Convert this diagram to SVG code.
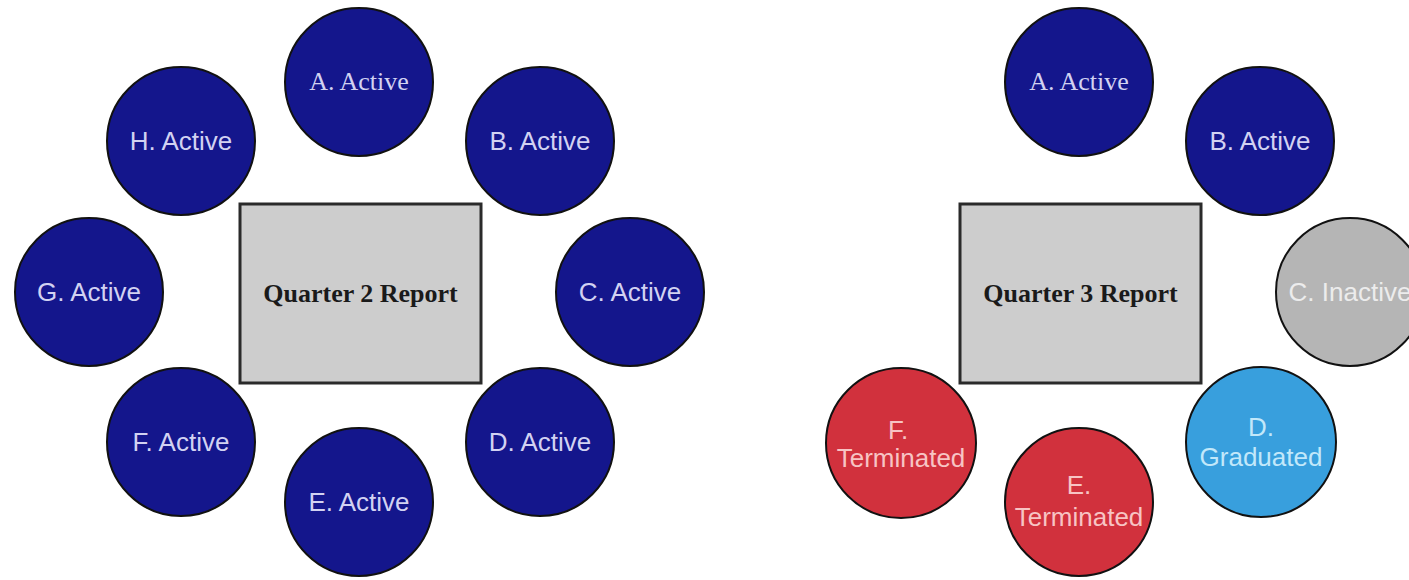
<svg xmlns="http://www.w3.org/2000/svg" width="1409" height="580" viewBox="0 0 1409 580">
<style>
.c{stroke:#111;stroke-width:2}
.act{fill:#14168c}
.ina{fill:#b5b5b5}
.ter{fill:#d1313d}
.gra{fill:#389fdd}
.t{font-family:"Liberation Sans",Arial,sans-serif;font-size:26px;text-anchor:middle}
.ts{font-family:"Liberation Serif","Times New Roman",serif;font-size:26px;text-anchor:middle}
.ta{fill:#d2d2f2}
.ti{fill:#ececec}
.tt{fill:#f7c4c4}
.tg{fill:#c2e8fa}
.r{fill:#cdcdcd;stroke:#2a2a2a;stroke-width:3}
.rt{font-family:"Liberation Serif","Times New Roman",serif;font-size:26px;font-weight:bold;text-anchor:middle;fill:#1a1a1a}
</style>
<rect width="1409" height="580" fill="#fff"/>
<g id="connectors"></g>
<g id="q2">
<g id="q2-report"><rect class="r" x="240" y="204" width="241" height="179"/><text class="rt" x="360.5" y="302">Quarter 2 Report</text></g>
<g id="q2-A"><circle class="c act" cx="359" cy="82" r="74"/><text class="ts ta" x="359" y="90">A. Active</text></g>
<g id="q2-B"><circle class="c act" cx="540" cy="141" r="74"/><text class="t ta" x="540" y="150">B. Active</text></g>
<g id="q2-C"><circle class="c act" cx="630" cy="292" r="74"/><text class="t ta" x="630" y="301">C. Active</text></g>
<g id="q2-D"><circle class="c act" cx="540" cy="442" r="74"/><text class="t ta" x="540" y="451">D. Active</text></g>
<g id="q2-E"><circle class="c act" cx="359" cy="502" r="74"/><text class="t ta" x="359" y="511">E. Active</text></g>
<g id="q2-F"><circle class="c act" cx="181" cy="442" r="74"/><text class="t ta" x="181" y="451">F. Active</text></g>
<g id="q2-G"><circle class="c act" cx="89" cy="292" r="74"/><text class="t ta" x="89" y="301">G. Active</text></g>
<g id="q2-H"><circle class="c act" cx="181" cy="141" r="74"/><text class="t ta" x="181" y="150">H. Active</text></g>
</g>
<g id="q3">
<g id="q3-report"><rect class="r" x="960" y="204" width="241" height="179"/><text class="rt" x="1080.5" y="302">Quarter 3 Report</text></g>
<g id="q3-A"><circle class="c act" cx="1079" cy="82" r="74"/><text class="ts ta" x="1079" y="90">A. Active</text></g>
<g id="q3-B"><circle class="c act" cx="1260" cy="141" r="74"/><text class="t ta" x="1260" y="150">B. Active</text></g>
<g id="q3-C"><circle class="c ina" cx="1350" cy="292" r="74"/><text class="t ti" x="1350" y="301">C. Inactive</text></g>
<g id="q3-D"><circle class="c gra" cx="1261" cy="442" r="75"/><text class="t tg" x="1261" y="436">D.</text><text class="t tg" x="1261" y="466">Graduated</text></g>
<g id="q3-E"><circle class="c ter" cx="1079" cy="502" r="74"/><text class="t tt" x="1079" y="494">E.</text><text class="t tt" x="1079" y="526">Terminated</text></g>
<g id="q3-F"><circle class="c ter" cx="901" cy="443" r="75"/><text class="t tt" x="898" y="439">F.</text><text class="t tt" x="901" y="467">Terminated</text></g>
</g>
</svg>
